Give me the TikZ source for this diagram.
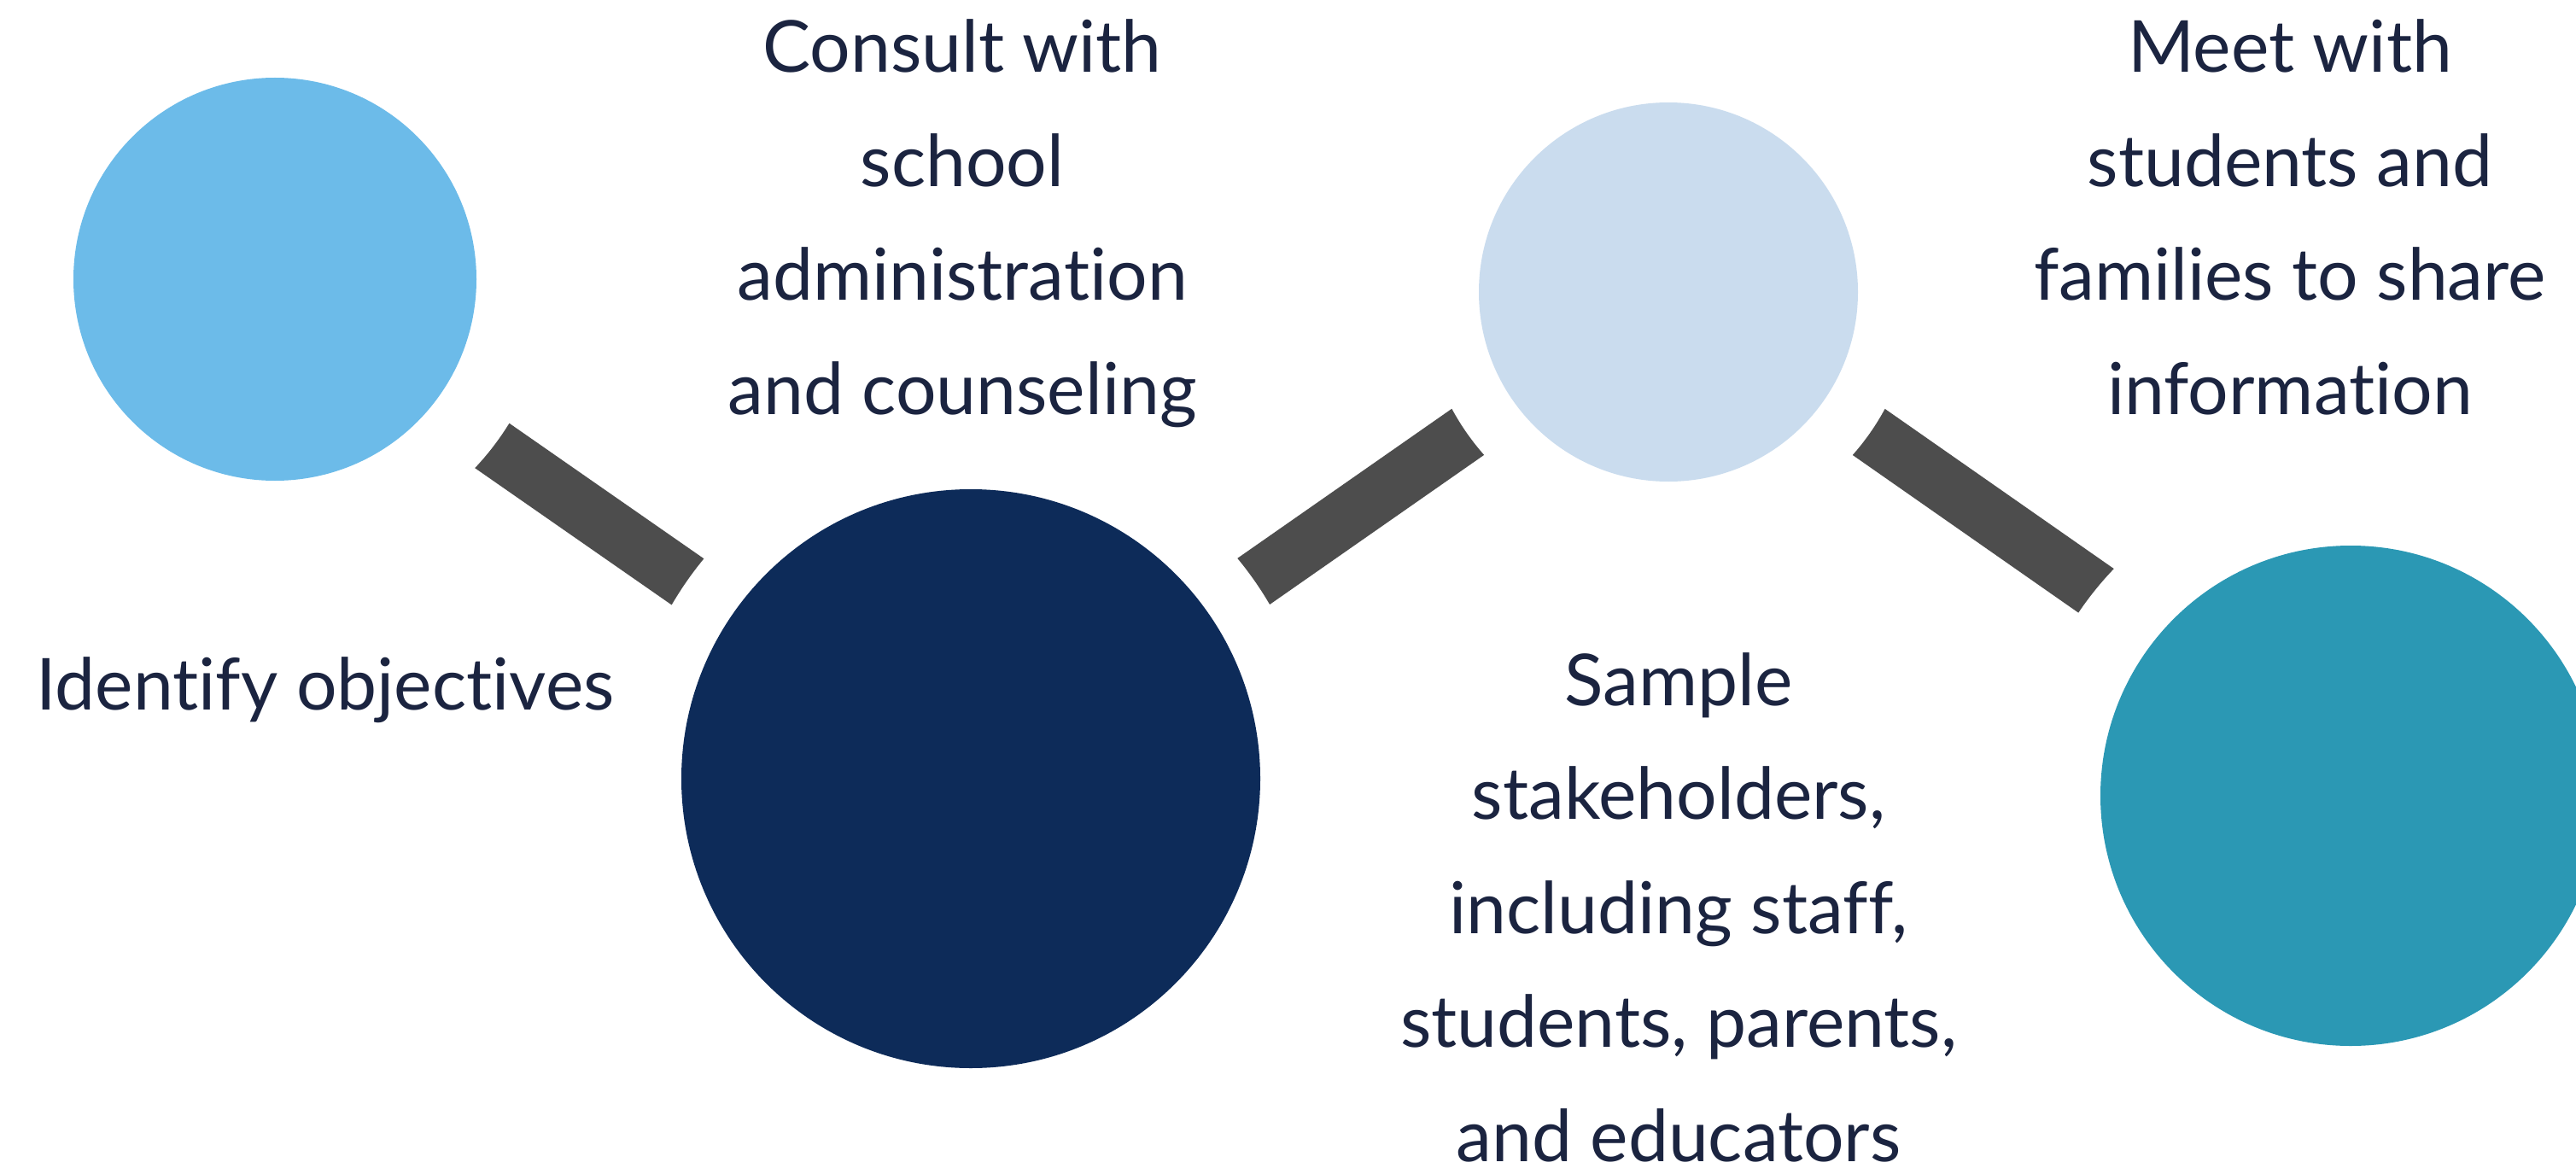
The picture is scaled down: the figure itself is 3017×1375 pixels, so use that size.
\documentclass[tikz,border=0pt]{standalone}
\usepackage{fontspec}
\setmainfont{Lato}[Ligatures=NoCommon]
\definecolor{cA}{HTML}{6CBBE9}
\definecolor{cB}{HTML}{0D2B59}
\definecolor{cC}{HTML}{CADCEE}
\definecolor{cD}{HTML}{2B98B4}
\definecolor{barc}{HTML}{4D4D4D}
\definecolor{txt}{HTML}{1B2440}
\pgfdeclarelayer{bars}
\pgfdeclarelayer{halos}
\pgfsetlayers{bars,halos,main}
\begin{document}
\begin{tikzpicture}[x=1pt,y=-1pt,
  disc/.style={circle, inner sep=0pt, draw=none},
  barline/.style={draw=barc, line width=66pt},
  halo/.style={fill=white},
  label/.style={text=txt, align=center, inner sep=0pt, font=\fontsize{84}{133.5}\selectfont}]
\useasboundingbox (0,0) rectangle (3017,1375);
% circles
\node[disc, fill=cA, minimum size=472pt] (n1) at (322,327) {};
\node[disc, fill=cB, minimum size=678pt] (n2) at (1137,912) {};
\node[disc, fill=cC, minimum size=444pt] (n3) at (1954,342) {};
\node[disc, fill=cD, minimum size=586pt] (n4) at (2753,932) {};
% connectors
\begin{pgfonlayer}{bars}
\fill[white] (0,0) rectangle (3017,1375);
\draw[barline] ([yshift=-18pt]n1.center) -- (n2.center);
\draw[barline] (n2.center) -- (n3.center);
\draw[barline] (n3.center) -- ([yshift=32pt]n4.center);
\end{pgfonlayer}
\begin{pgfonlayer}{halos}
\fill[halo] (n1.center) circle[radius=322];
\fill[halo] (n2.center) circle[radius=405];
\fill[halo] (n3.center) circle[radius=288];
\fill[halo] (n4.center) circle[radius=384];
\end{pgfonlayer}
% labels
\node[label, anchor=base] (t1) at (381,831) {Identify objectives};
\node[label, anchor=base] (t2) at (1127,485) {Consult with\\school\\administration\\and counseling};
\node[label, anchor=base] (t3) at (1966,1360) {Sample\\stakeholders,\\including staff,\\students, parents,\\and educators};
\node[label, anchor=base] (t4) at (2682,485) {Meet with\\students and\\families to share\\information};
\end{tikzpicture}
\end{document}
